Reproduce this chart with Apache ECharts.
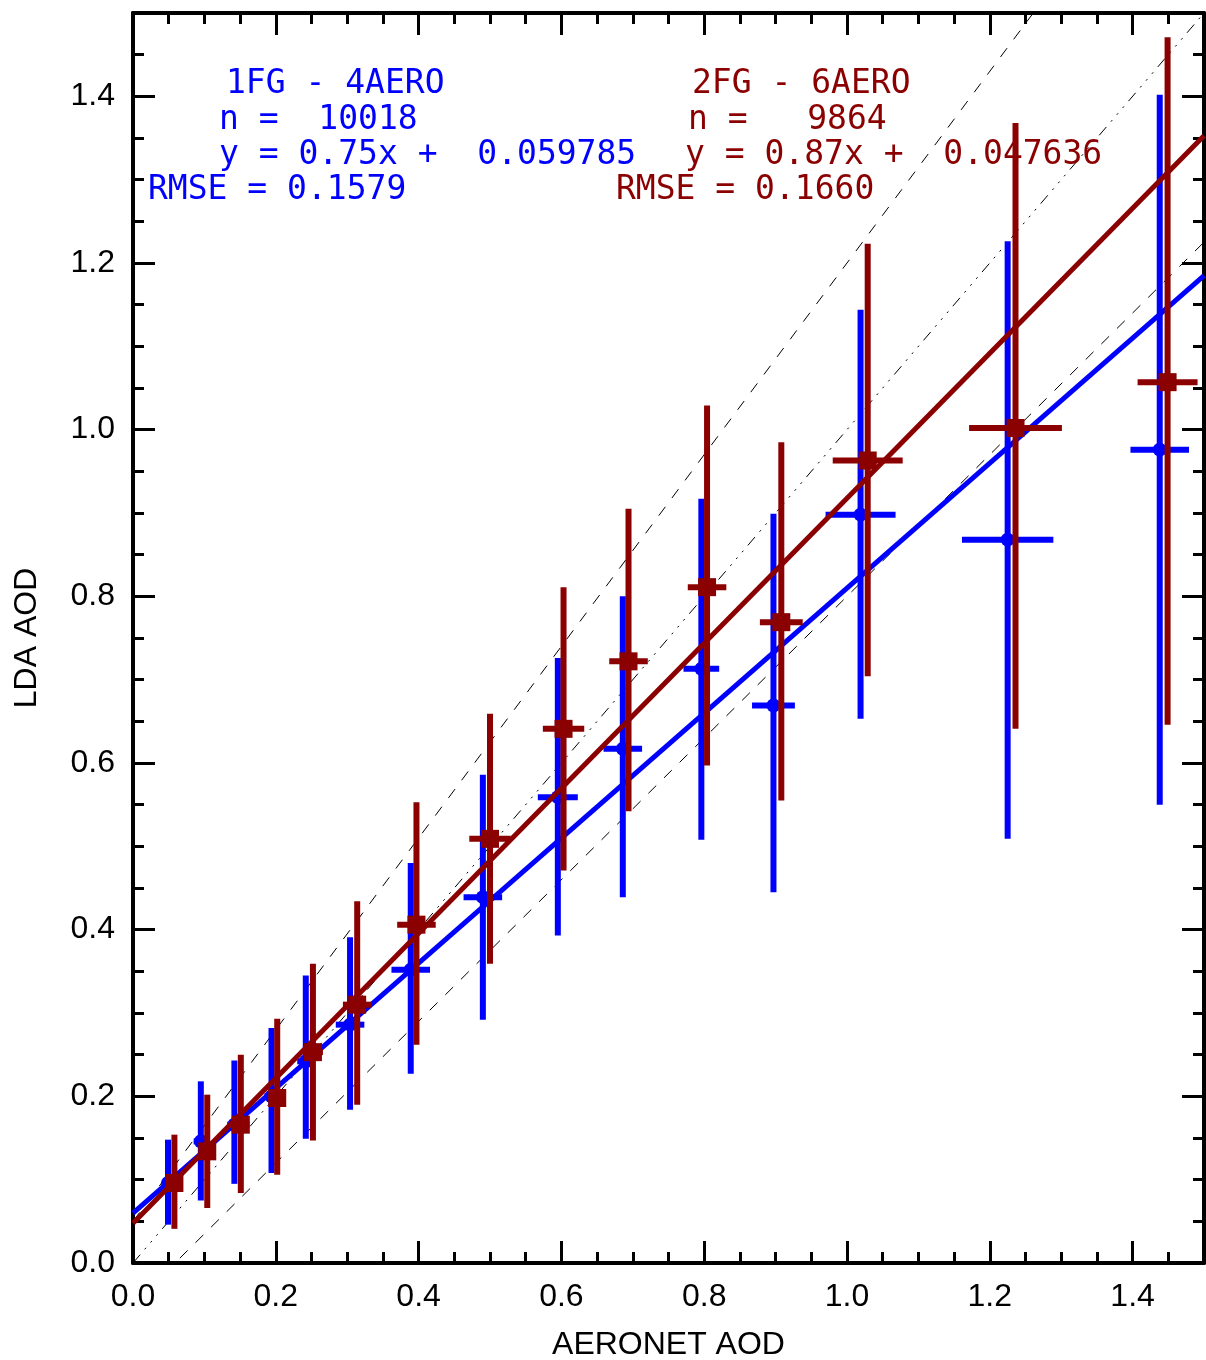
<!DOCTYPE html>
<html>
<head>
<meta charset="utf-8">
<title>LDA AOD vs AERONET AOD</title>
<script src="https://cdn.jsdelivr.net/npm/echarts@6.0.0/dist/echarts.min.js"></script>
<style>
  html, body { margin: 0; padding: 0; background: #fff; }
  #chart { width: 1206px; height: 1360px; }
</style>
</head>
<body>
<div id="chart"></div>
<script>
// binned points, 1FG - 4AERO (blue)
var blueX    = [0.049, 0.095, 0.142, 0.194, 0.242, 0.304, 0.389, 0.490, 0.595, 0.686, 0.796, 0.897, 1.019, 1.225, 1.438];
var blueY    = [0.096, 0.146, 0.166, 0.200, 0.242, 0.286, 0.352, 0.439, 0.559, 0.617, 0.713, 0.669, 0.898, 0.868, 0.976];
var blueXErr = [0.008, 0.010, 0.010, 0.010, 0.012, 0.020, 0.027, 0.027, 0.028, 0.027, 0.025, 0.030, 0.049, 0.064, 0.041];
var blueLow  = [0.046, 0.075, 0.095, 0.108, 0.149, 0.184, 0.227, 0.292, 0.393, 0.439, 0.508, 0.445, 0.653, 0.509, 0.550];
var blueHigh = [0.148, 0.218, 0.243, 0.282, 0.345, 0.391, 0.480, 0.586, 0.726, 0.800, 0.917, 0.899, 1.144, 1.226, 1.402];

// binned points, 2FG - 6AERO (dark red)
var redX    = [0.058, 0.104, 0.151, 0.202, 0.252, 0.314, 0.397, 0.500, 0.603, 0.694, 0.804, 0.908, 1.029, 1.236, 1.449];
var redY    = [0.096, 0.134, 0.166, 0.198, 0.253, 0.310, 0.406, 0.509, 0.641, 0.722, 0.811, 0.769, 0.963, 1.002, 1.057];
var redXErr = [0.010, 0.010, 0.012, 0.012, 0.014, 0.020, 0.027, 0.029, 0.029, 0.027, 0.027, 0.030, 0.049, 0.065, 0.042];
var redLow  = [0.041, 0.066, 0.084, 0.106, 0.147, 0.190, 0.262, 0.359, 0.471, 0.542, 0.597, 0.555, 0.704, 0.641, 0.646];
var redHigh = [0.154, 0.202, 0.250, 0.293, 0.359, 0.434, 0.553, 0.659, 0.811, 0.905, 1.029, 0.985, 1.223, 1.368, 1.471];

// fits: [slope, offset]
var blueFit = [0.75, 0.059785];
var redFit  = [0.87, 0.047636];
// expected error envelope: +-(0.05 + 0.15x)
var envelope = [0.05, 0.15];

var axisMin = 0, axisMax = 1.5, majorStep = 0.2, minorStep = 0.05;

var blueNotes = ['1FG - 4AERO', 'n =  10018', 'y = 0.75x +  0.059785', 'RMSE = 0.1579'];
var redNotes  = ['2FG - 6AERO', 'n =   9864', 'y = 0.87x +  0.047636', 'RMSE = 0.1660'];

var BLUE = '#0000ff';
var RED = '#8b0000';
var labelFont = '"Liberation Sans", Arial, sans-serif';

var chart = echarts.init(document.getElementById('chart'));

function tickLabel(v) {
  var k = v / majorStep;
  if (Math.abs(k - Math.round(k)) < 1e-6) return v.toFixed(1);
  return '';
}

function makeAxis(pos, step, len, withLine, withLabel) {
  return {
    type: 'value',
    position: pos,
    min: axisMin,
    max: axisMax,
    interval: step,
    axisLine: { show: withLine, onZero: false, lineStyle: { color: '#000', width: 4 } },
    axisTick: { show: true, inside: true, length: len, lineStyle: { color: '#000', width: 3 } },
    axisLabel: {
      show: withLabel,
      formatter: tickLabel,
      color: '#000',
      fontSize: 32,
      fontFamily: labelFont,
      margin: 18
    },
    splitLine: { show: false },
    minorTick: { show: false }
  };
}

function fitLine(fit) {
  return [[axisMin, fit[1]], [axisMax, fit[0] * axisMax + fit[1]]];
}

function errRender(color, shape) {
  return function (params, api) {
    var x = api.value(0), y = api.value(1), dx = api.value(2);
    var c = api.coord([x, y]);
    var bot = api.coord([x, api.value(3)]);
    var top = api.coord([x, api.value(4)]);
    var lft = api.coord([x - dx, y]);
    var rgt = api.coord([x + dx, y]);
    var st = { stroke: color, lineWidth: 6 };
    var marker = shape === 'circle'
      ? { type: 'circle', shape: { cx: c[0], cy: c[1], r: 7 }, style: { fill: color } }
      : { type: 'rect', shape: { x: c[0] - 9, y: c[1] - 9, width: 18, height: 18 }, style: { fill: color } };
    return {
      type: 'group',
      children: [
        { type: 'line', shape: { x1: bot[0], y1: bot[1], x2: top[0], y2: top[1] }, style: st },
        { type: 'line', shape: { x1: lft[0], y1: lft[1], x2: rgt[0], y2: rgt[1] }, style: st },
        marker
      ]
    };
  };
}

function pack(xs, ys, dxs, lows, highs) {
  return xs.map(function (x, i) { return [x, ys[i], dxs[i], lows[i], highs[i]]; });
}

function notes(lines, lefts, color) {
  var rows = [82, 118, 153, 188];
  return lines.map(function (t, i) {
    return {
      type: 'text',
      left: lefts[i],
      top: rows[i] - 14,
      z: 100,
      style: {
        text: t,
        fill: color,
        font: '33px "DejaVu Sans Mono", monospace'
      }
    };
  });
}

var xAxes = [
  makeAxis('bottom', majorStep, 22, true, true),
  makeAxis('bottom', minorStep, 11, false, false),
  makeAxis('top', majorStep, 22, true, false),
  makeAxis('top', minorStep, 11, false, false)
];
xAxes[0].name = 'AERONET AOD';
xAxes[0].nameLocation = 'middle';
xAxes[0].nameGap = 66;
xAxes[0].nameTextStyle = { color: '#000', fontSize: 32, fontFamily: labelFont };

var yAxes = [
  makeAxis('left', majorStep, 22, true, true),
  makeAxis('left', minorStep, 11, false, false),
  makeAxis('right', majorStep, 22, true, false),
  makeAxis('right', minorStep, 11, false, false)
];
yAxes[0].name = 'LDA AOD';
yAxes[0].nameLocation = 'middle';
yAxes[0].nameGap = 90;
yAxes[0].nameTextStyle = { color: '#000', fontSize: 32, fontFamily: labelFont };

var thin = { color: '#000', width: 1 };

var option = {
  backgroundColor: '#fff',
  animation: false,
  grid: { left: 133, right: 2, top: 13, bottom: 97, outerBoundsMode: 'none', containLabel: false },
  xAxis: xAxes,
  yAxis: yAxes,
  graphic: notes(blueNotes, [226, 219, 219, 148], BLUE)
    .concat(notes(redNotes, [692, 688, 685, 616], RED)),
  series: [
    {
      type: 'line', silent: true, showSymbol: false, z: 1,
      data: [[axisMin, envelope[0]], [axisMax, (1 + envelope[1]) * axisMax + envelope[0]]],
      lineStyle: Object.assign({ type: [11, 11] }, thin)
    },
    {
      type: 'line', silent: true, showSymbol: false, z: 1,
      data: [[axisMin, -envelope[0]], [axisMax, (1 - envelope[1]) * axisMax - envelope[0]]],
      lineStyle: Object.assign({ type: [11, 11] }, thin)
    },
    {
      type: 'line', silent: true, showSymbol: false, z: 1,
      data: [[axisMin, axisMin], [axisMax, axisMax]],
      lineStyle: Object.assign({ type: [11, 7, 2, 7, 2, 7, 2, 7] }, thin)
    },
    {
      type: 'custom', name: '1FG - 4AERO', z: 2,
      renderItem: errRender(BLUE, 'circle'),
      encode: { x: 0, y: 1 },
      data: pack(blueX, blueY, blueXErr, blueLow, blueHigh)
    },
    {
      type: 'line', silent: true, showSymbol: false, z: 3,
      data: fitLine(blueFit),
      lineStyle: { color: BLUE, width: 5 }
    },
    {
      type: 'custom', name: '2FG - 6AERO', z: 4,
      renderItem: errRender(RED, 'square'),
      encode: { x: 0, y: 1 },
      data: pack(redX, redY, redXErr, redLow, redHigh)
    },
    {
      type: 'line', silent: true, showSymbol: false, z: 5,
      data: fitLine(redFit),
      lineStyle: { color: RED, width: 5 }
    }
  ]
};

chart.setOption(option);
</script>
</body>
</html>
